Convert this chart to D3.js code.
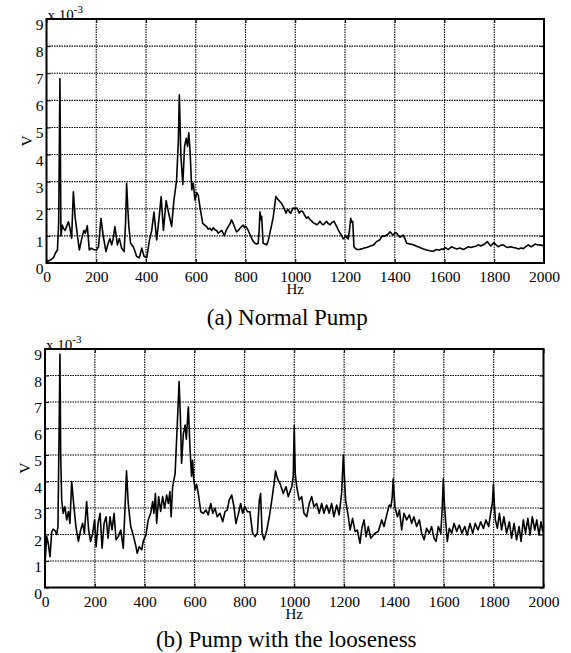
<!DOCTYPE html>
<html>
<head>
<meta charset="utf-8">
<script src="https://cdn.jsdelivr.net/npm/d3@7"></script>
<style>
  body { margin: 0; background: #fff; }
  svg { display: block; }
  svg text { font-family: "Liberation Serif", "Times New Roman", Times, "DejaVu Serif", serif !important; fill: #000; }
</style>
</head>
<body>
<svg id="chart" width="571" height="653" font-family="Liberation Serif, serif"></svg>
<script>
// frequency (Hz) and amplitude (x 10^-3 V)
var hzA = [0, 14, 28, 36, 44, 49, 54, 56, 58, 63, 68, 75, 81, 88, 94, 101, 108, 115, 124, 132,
  142, 150, 156, 164, 172, 180, 188, 201, 209, 219, 228, 239, 248, 255, 262, 268, 275, 285, 293, 302,
  312, 318, 322, 327, 331, 338, 349, 355, 362, 373, 383, 392, 403, 414, 423, 432, 443, 453, 461, 470,
  481, 490, 503, 512, 523, 530, 534, 540, 548, 555, 562, 567, 572, 577, 584, 590, 597, 604, 610, 617,
  628, 636, 644, 650, 657, 664, 671, 678, 684, 690, 697, 705, 715, 722, 731, 738, 744, 751, 758, 764,
  771, 778, 785, 791, 797, 802, 811, 818, 825, 831, 838, 845, 851, 855, 858, 862, 865, 868, 871, 878,
  885, 891, 898, 905, 912, 917, 922, 930, 939, 945, 952, 958, 963, 968, 972, 977, 982, 987, 992, 999,
  1006, 1011, 1016, 1023, 1030, 1038, 1046, 1052, 1059, 1066, 1073, 1080, 1086, 1093, 1099, 1106, 1113, 1120, 1126, 1133,
  1140, 1148, 1156, 1162, 1167, 1174, 1180, 1187, 1193, 1199, 1204, 1209, 1213, 1218, 1223, 1227, 1231, 1234, 1236, 1241,
  1247, 1257, 1267, 1277, 1287, 1300, 1314, 1327, 1340, 1347, 1355, 1362, 1368, 1375, 1381, 1388, 1394, 1401, 1408, 1414,
  1421, 1428, 1434, 1441, 1448, 1461, 1475, 1488, 1501, 1515, 1528, 1541, 1555, 1562, 1569, 1579, 1589, 1595, 1602, 1609,
  1615, 1622, 1629, 1639, 1649, 1662, 1676, 1686, 1696, 1706, 1716, 1726, 1736, 1746, 1756, 1764, 1772, 1779, 1786, 1793,
  1799, 1806, 1816, 1826, 1836, 1846, 1856, 1866, 1877, 1887, 1897, 1907, 1917, 1927, 1937, 1944, 1950, 1957, 1964, 1970,
  1977, 1987, 1997, 2000];
var voltA = [0.05, 0.1, 0.2, 0.37, 0.48, 1.5, 6.8, 4.0, 1.0, 1.4, 1.28, 1.2, 1.35, 1.52, 1.3, 0.91, 2.63, 1.7, 1.05, 0.48,
  0.91, 1.2, 1.1, 1.37, 0.48, 0.55, 0.5, 0.48, 0.6, 1.65, 1.0, 0.42, 0.73, 0.9, 0.67, 0.9, 1.34, 0.67, 0.9, 0.55,
  0.42, 1.5, 2.94, 2.0, 1.35, 0.73, 0.6, 0.45, 0.25, 0.19, 0.55, 0.25, 0.19, 0.85, 1.2, 1.88, 0.85, 1.7, 2.45, 1.2,
  2.3, 1.88, 1.35, 2.3, 3.05, 4.5, 6.2, 4.0, 2.9, 4.3, 4.6, 4.3, 4.8, 4.17, 2.7, 2.94, 2.32, 2.6, 2.5, 2.06,
  1.46, 1.4, 1.34, 1.25, 1.28, 1.2, 1.3, 1.22, 1.2, 1.1, 1.15, 1.2, 1.0, 1.2, 1.34, 1.45, 1.59, 1.45, 1.28, 1.15,
  1.2, 1.28, 1.35, 1.4, 1.3, 1.34, 1.2, 1.05, 0.91, 0.8, 0.73, 0.7, 0.73, 1.2, 1.89, 1.6, 1.72, 1.2, 0.73, 0.7,
  0.67, 0.8, 1.1, 1.4, 1.72, 2.1, 2.45, 2.35, 2.26, 2.2, 2.08, 1.95, 1.84, 1.95, 1.97, 1.88, 1.84, 1.95, 2.03, 2.0,
  2.03, 1.95, 1.84, 1.92, 1.9, 1.75, 1.65, 1.7, 1.6, 1.55, 1.48, 1.45, 1.41, 1.45, 1.54, 1.45, 1.41, 1.48, 1.54, 1.45,
  1.41, 1.5, 1.54, 1.42, 1.34, 1.2, 1.1, 1.0, 0.89, 0.95, 1.0, 0.92, 0.89, 1.2, 1.65, 1.5, 1.54, 1.0, 0.6, 0.55,
  0.5, 0.5, 0.52, 0.55, 0.57, 0.62, 0.66, 0.79, 0.85, 0.97, 1.0, 1.0, 1.03, 1.08, 1.15, 1.08, 1.03, 1.12, 1.1, 1.02,
  0.95, 1.0, 1.03, 0.9, 0.73, 0.7, 0.67, 0.62, 0.57, 0.52, 0.48, 0.45, 0.43, 0.47, 0.5, 0.47, 0.52, 0.5, 0.57, 0.53,
  0.5, 0.55, 0.6, 0.55, 0.52, 0.55, 0.5, 0.55, 0.6, 0.57, 0.6, 0.62, 0.67, 0.63, 0.67, 0.72, 0.79, 0.7, 0.63, 0.7,
  0.75, 0.68, 0.6, 0.65, 0.67, 0.6, 0.57, 0.6, 0.57, 0.55, 0.52, 0.55, 0.53, 0.6, 0.67, 0.62, 0.6, 0.65, 0.7, 0.68,
  0.67, 0.66, 0.64, 0.64];

var hzB = [0, 7, 13, 20, 27, 33, 40, 47, 52, 55, 57, 60, 63, 67, 73, 80, 87, 94, 100, 107,
  116, 124, 134, 143, 151, 158, 167, 175, 183, 191, 199, 205, 213, 221, 229, 237, 245, 253, 261, 269,
  277, 285, 294, 304, 314, 321, 327, 334, 344, 354, 365, 370, 378, 388, 394, 405, 414, 424, 432, 437,
  443, 448, 456, 464, 472, 480, 488, 495, 501, 506, 512, 522, 530, 538, 543, 548, 555, 562, 567, 575,
  582, 588, 592, 597, 602, 608, 615, 625, 635, 646, 655, 665, 673, 682, 691, 702, 713, 722, 731, 739,
  749, 758, 766, 775, 785, 793, 802, 812, 822, 833, 843, 852, 860, 865, 871, 879, 890, 900, 910, 919,
  925, 933, 943, 956, 967, 976, 990, 996, 1000, 1004, 1010, 1020, 1030, 1039, 1050, 1060, 1070, 1079, 1090, 1100,
  1110, 1119, 1130, 1140, 1150, 1159, 1170, 1180, 1190, 1197, 1206, 1217, 1224, 1234, 1244, 1253, 1264, 1271, 1280, 1288,
  1297, 1307, 1324, 1337, 1351, 1360, 1371, 1381, 1388, 1393, 1397, 1401, 1404, 1414, 1422, 1431, 1440, 1451, 1462, 1471,
  1480, 1491, 1502, 1511, 1521, 1531, 1542, 1551, 1561, 1569, 1578, 1588, 1594, 1598, 1602, 1605, 1614, 1622, 1632, 1641,
  1652, 1662, 1673, 1684, 1694, 1705, 1716, 1726, 1737, 1748, 1759, 1769, 1780, 1788, 1795, 1799, 1803, 1807, 1815, 1823,
  1832, 1841, 1852, 1863, 1872, 1882, 1892, 1902, 1910, 1919, 1928, 1937, 1946, 1955, 1965, 1973, 1982, 1990, 1997, 2000];
var voltB = [0.92, 1.92, 1.67, 1.16, 2.1, 2.2, 2.15, 2.0, 2.3, 4.7, 6.2, 8.8, 5.0, 3.3, 2.8, 3.05, 2.55, 2.87, 2.42, 4.0,
  3.05, 2.3, 1.74, 2.17, 2.42, 2.04, 3.24, 2.17, 1.74, 2.04, 2.55, 1.54, 2.42, 2.8, 1.48, 2.42, 2.67, 1.86, 2.67, 2.17,
  2.8, 1.8, 1.92, 2.17, 1.48, 3.0, 4.4, 3.17, 2.3, 1.98, 1.54, 1.29, 1.54, 1.42, 1.74, 1.98, 2.55, 2.8, 3.24, 2.8,
  3.55, 2.42, 3.43, 2.87, 3.43, 3.0, 3.49, 3.17, 3.62, 2.67, 3.8, 4.3, 6.0, 7.77, 6.5, 4.69, 5.8, 6.13, 5.6, 6.82,
  5.2, 4.2, 4.8, 4.06, 3.68, 3.9, 3.55, 2.86, 2.8, 2.92, 2.74, 3.17, 2.8, 2.99, 2.67, 2.8, 2.48, 2.86, 2.92, 3.3,
  3.49, 3.05, 2.42, 2.74, 3.17, 2.8, 3.05, 2.86, 2.86, 2.05, 1.92, 2.05, 3.3, 3.55, 2.05, 1.8, 2.17, 2.67, 3.3, 3.92,
  4.4, 4.1, 3.92, 3.55, 3.8, 3.43, 3.8, 4.2, 6.1, 4.3, 3.8, 3.3, 3.43, 2.8, 2.67, 3.17, 3.43, 3.05, 3.17, 2.8,
  3.17, 2.8, 3.11, 2.8, 3.17, 2.67, 3.11, 2.74, 3.55, 5.0, 3.3, 2.67, 2.17, 2.61, 2.11, 2.17, 1.67, 2.23, 2.55, 1.92,
  2.3, 1.86, 2.05, 2.11, 2.55, 2.3, 2.74, 3.11, 3.05, 3.4, 4.1, 3.5, 3.05, 2.67, 2.92, 2.17, 2.8, 2.55, 2.74, 2.42,
  2.67, 2.3, 2.55, 2.05, 1.8, 2.23, 2.05, 2.3, 1.86, 1.74, 2.3, 2.05, 3.05, 4.1, 3.2, 2.8, 1.74, 2.23, 2.05, 2.42,
  2.11, 2.36, 2.05, 2.3, 1.98, 2.42, 2.05, 2.42, 2.17, 2.48, 2.23, 2.55, 2.3, 2.8, 3.2, 3.9, 3.1, 2.55, 2.23, 2.8,
  2.17, 2.67, 2.05, 2.48, 1.86, 2.42, 1.8, 2.3, 1.74, 2.55, 2.05, 2.61, 1.98, 2.67, 2.17, 2.55, 1.98, 2.48, 2.11, 2.3];

var xTicks = [0, 200, 400, 600, 800, 1000, 1200, 1400, 1600, 1800, 2000];
var yTicks = [0, 1, 2, 3, 4, 5, 6, 7, 8, 9];
var captions = ["(a) Normal Pump", "(b) Pump with the looseness"];

var panels = [
  { hz: hzA, v: voltA, left: 46.5, top: 19, w: 497.5, h: 244, caption: captions[0], capY: 325 },
  { hz: hzB, v: voltB, left: 45, top: 349, w: 498.5, h: 238.5, caption: captions[1], capY: 647 }
];

var svg = d3.select("#chart");

panels.forEach(function (p) {
  var x = d3.scaleLinear().domain([0, 2000]).range([0, p.w]);
  var y = d3.scaleLinear().domain([0, 9]).range([p.h, 0]);

  var g = svg.append("g")
      .attr("transform", "translate(" + p.left + "," + p.top + ")");

  // dotted grid
  var grid = g.append("g").attr("class", "grid");
  grid.selectAll("line.vx")
      .data(xTicks.slice(1, -1))
      .join("line")
      .attr("class", "vx")
      .attr("x1", function (d) { return x(d); })
      .attr("x2", function (d) { return x(d); })
      .attr("y1", 0)
      .attr("y2", p.h);
  grid.selectAll("line.hy")
      .data(yTicks.slice(1, -1))
      .join("line")
      .attr("class", "hy")
      .attr("y1", function (d) { return y(d); })
      .attr("y2", function (d) { return y(d); })
      .attr("x1", 0)
      .attr("x2", p.w);
  grid.selectAll("line")
      .attr("stroke", "#000")
      .attr("stroke-width", 1.1)
      .attr("stroke-dasharray", "1.5,1");

  // the spectrum
  var line = d3.line()
      .x(function (d) { return x(d[0]); })
      .y(function (d) { return y(d[1]); });
  g.append("path")
      .datum(d3.zip(p.hz, p.v))
      .attr("fill", "none")
      .attr("stroke", "#000")
      .attr("stroke-width", 1.6)
      .attr("stroke-linejoin", "round")
      .attr("d", line);

  // axes: labels and short inward ticks
  var xAxis = g.append("g")
      .attr("transform", "translate(0," + p.h + ")")
      .call(d3.axisBottom(x).tickValues(xTicks).tickSize(-4).tickPadding(8).tickFormat(d3.format("d")));
  var xTop = g.append("g")
      .call(d3.axisTop(x).tickValues(xTicks).tickSize(-4).tickFormat(""));
  var yAxis = g.append("g")
      .call(d3.axisLeft(y).tickValues(yTicks).tickSize(-4).tickPadding(3).tickFormat(d3.format("d")));
  var yRight = g.append("g")
      .attr("transform", "translate(" + p.w + ",0)")
      .call(d3.axisRight(y).tickValues(yTicks).tickSize(-4).tickFormat(""));

  [xAxis, xTop, yAxis, yRight].forEach(function (a) {
    a.attr("font-family", null);
    a.select(".domain").remove();
    a.selectAll(".tick line").attr("stroke", "#000").attr("stroke-width", 1);
    a.selectAll("text")
        .style("font-size", "15.5px")
        .attr("fill", "#000");
  });
  yAxis.selectAll("text").attr("dy", "0.68em");

  // frame
  g.append("rect")
      .attr("width", p.w)
      .attr("height", p.h)
      .attr("fill", "none")
      .attr("stroke", "#000")
      .attr("stroke-width", 2);

  // exponent
  var ex = g.append("text")
      .attr("x", 1)
      .attr("y", 1)
      .style("font-size", "15px")
      .text("x 10");
  ex.append("tspan")
      .attr("dy", -7)
      .style("font-size", "11px")
      .text("-3");

  g.append("text")
      .attr("x", x(1000))
      .attr("y", p.h + 31)
      .attr("text-anchor", "middle")
      .style("font-size", "15px")
      .text("Hz");

  g.append("text")
      .attr("transform", "translate(-20," + (p.h / 2) + ") rotate(-90)")
      .attr("text-anchor", "middle")
      .attr("dy", "0.35em")
      .style("font-size", "15.5px")
      .text("V");

  svg.append("text")
      .attr("x", p.left + p.w / 2 - 8)
      .attr("y", p.capY)
      .attr("text-anchor", "middle")
      .style("font-size", "23px")
      .text(p.caption);
});
</script>
</body>
</html>
